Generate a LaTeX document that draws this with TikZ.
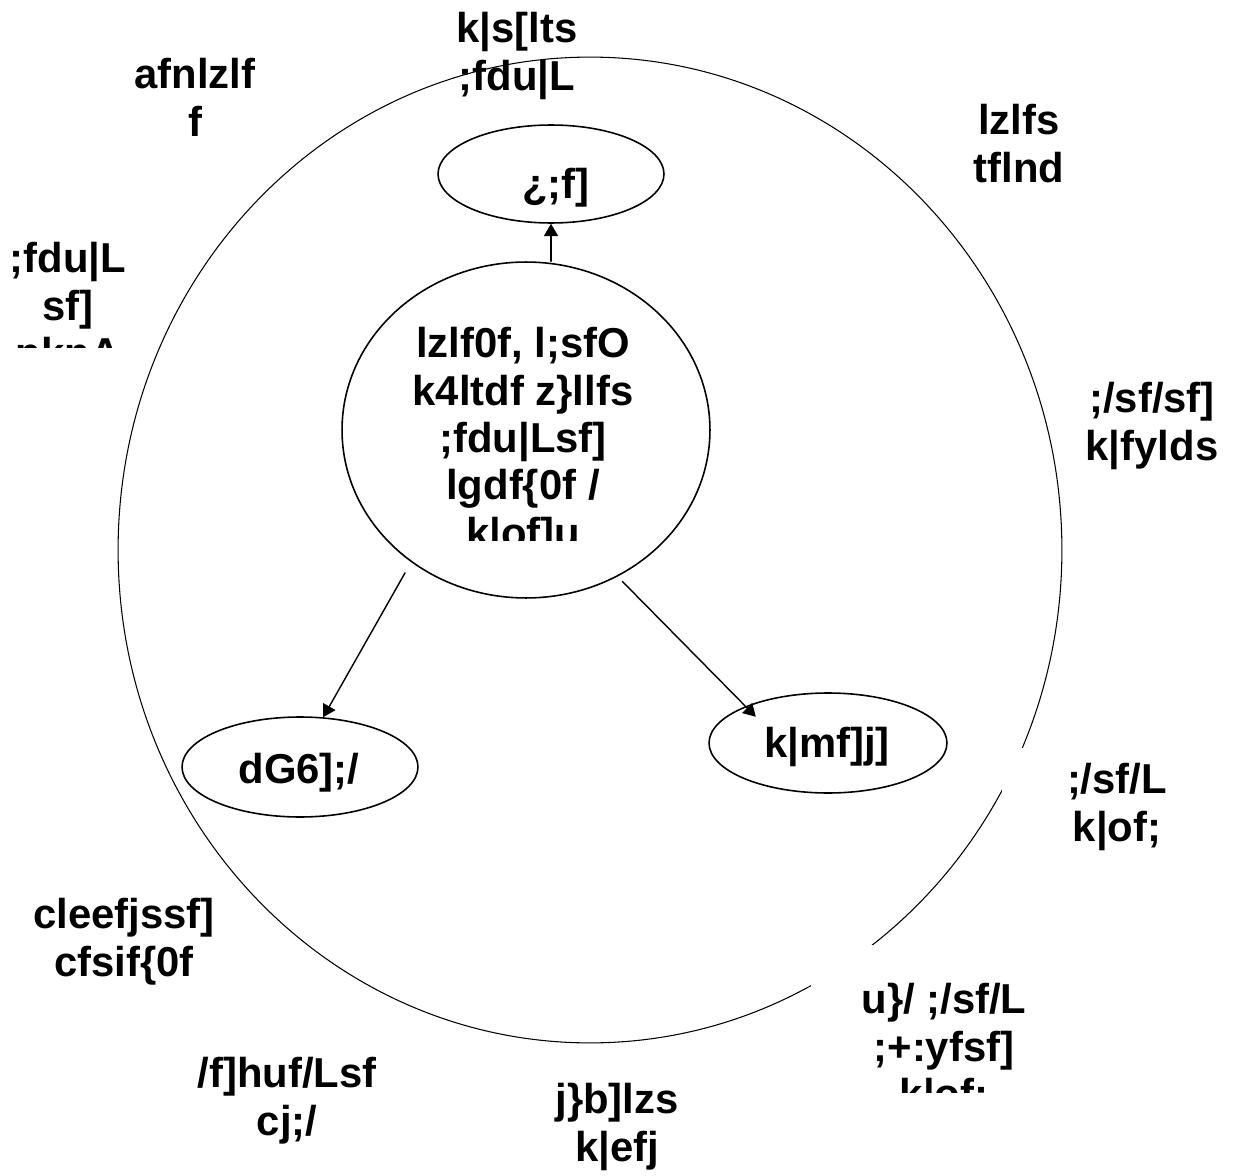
\documentclass[tikz,border=0pt]{standalone}
\usepackage{fontspec}
\setmainfont{Liberation Sans}[Ligatures=NoCommon]
\usetikzlibrary{shapes.geometric, arrows.meta}

\begin{document}
\begin{tikzpicture}[x=0.02cm, y=-0.02cm,
	>={Triangle[length=7pt, width=8pt]}, line cap=round, line join=round,
	ring/.style={draw, ellipse, inner sep=0pt, line width=0.9pt},
	words/.style={font=\bfseries\fontsize{23.8}{27}\selectfont, align=center, inner sep=0pt, anchor=north},
	mask/.style={fill=white},
	links/.style={->, line width=0.8pt}]
	
	\useasboundingbox (0,0) rectangle (1238,1176);
	
	% outer ring
	\node [ring, line width=0.6pt, minimum width=18.88cm, minimum height=19.72cm] (boundary) at (590,550) {};
	
	% white patches over the ring
	\path [mask] (1002,748) rectangle (1236,860);
	\path [mask] (811,945) rectangle (1077,1092);
	
	% inner shapes
	\node [ring, minimum width=7.36cm, minimum height=6.72cm] (hub) at (526,430) {};
	\node [ring, minimum width=4.52cm, minimum height=1.96cm] (peak) at (551,174) {};
	\node [ring, minimum width=4.72cm, minimum height=2cm] (westpod) at (300,767) {};
	\node [ring, minimum width=4.76cm, minimum height=2cm] (eastpod) at (828,743) {};
	
	\node [words] (peaktext) at (556,168) {¿;f]};
	\node [words] (westtext) at (299,753) {dG6];/};
	\node [words] (easttext) at (827,727) {k|mf]j]};
	
	\begin{scope}
	\clip (330,300) rectangle (720,540);
	\node [words] (hubtext) at (523,327) {lzlf0f, l;sfO\\k4ltdf z\}llfs\\;fdu|Lsf]\\lgdf\{0f /\\k|of]u};
	\end{scope}
	
	% arrows
	\draw [links] (hub.north -| peak.south) -- (peak.south);
	\draw [links, shorten <=7pt] (hub.229) -- (westpod.65);
	\draw [links, shorten <=3.8pt, shorten >=-8.4pt] (hub.302) -- (eastpod.156);
	
	% texts round the ring
	\node [words] (toptext) at (517,12) {k|s[lts\\;fdu|L};
	\node [words] (nwtext) at (195,58) {afnlzlf\\f};
	\begin{scope}
	\clip (0,200) rectangle (160,347);
	\node [words] (wtext) at (68,242) {;fdu|L\\sf]\\pknA};
	\end{scope}
	\node [words] (netext) at (1019,104) {lzlfs\\tflnd};
	\node [words] (etext) at (1152,382) {;/sf/sf]\\k|fylds};
	\node [words] (setext) at (1117,763) {;/sf/L\\k|of;};
	\begin{scope}
	\clip (811,945) rectangle (1077,1092);
	\node [words] (sstext) at (944,983) {u\}/ ;/sf/L\\;+:yfsf]\\k|of;};
	\end{scope}
	\node [words] (swtext) at (124,898) {cleefjssf]\\cfsif\{0f};
	\node [words] (stext) at (287,1057) {/f]huf/Lsf\\cj;/};
	\node [words] (btext) at (617,1083) {j\}b]lzs\\k|efj};
	
\end{tikzpicture}
\end{document}
